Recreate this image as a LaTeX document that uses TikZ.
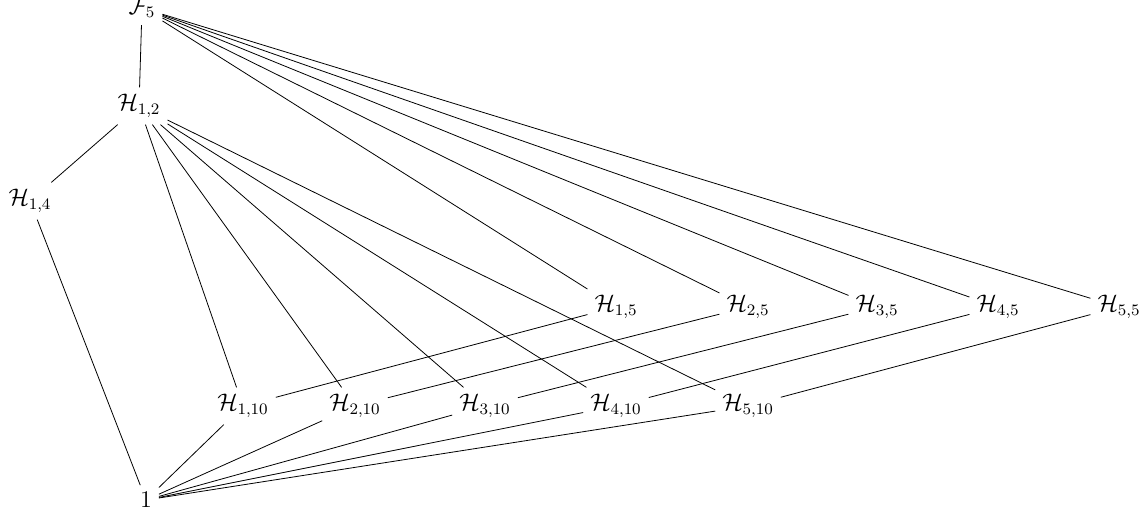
\documentclass[tikz,border=0pt]{standalone}
\usepackage{amsmath,amssymb}
\usetikzlibrary{positioning}

\begin{document}
\begin{tikzpicture}[
  x=0.5pt, y=-0.5pt,
  grp/.style={inner sep=3.33pt, font=\large},
  edge/.style={draw, thin},
]
\useasboundingbox (0,0) rectangle (1146,518);

% Top and bottom
\node[grp] (F5)  at (142,   8) {$\mathcal{F}_5$};
\node[grp] (one) at (146, 500) {$1$};

% Left chain
\node[grp] (H12) at (139, 106) {$\mathcal{H}_{1,2}$};
\node[grp] (H14) at ( 30, 201) {$\mathcal{H}_{1,4}$};

% Row of order-5 subgroups
\node[grp] (H15) at ( 616, 307) {$\mathcal{H}_{1,5}$};
\node[grp] (H25) at ( 748, 307) {$\mathcal{H}_{2,5}$};
\node[grp] (H35) at ( 877, 307) {$\mathcal{H}_{3,5}$};
\node[grp] (H45) at ( 998, 307) {$\mathcal{H}_{4,5}$};
\node[grp] (H55) at (1119, 307) {$\mathcal{H}_{5,5}$};

% Row of order-10 subgroups
\node[grp] (H110) at (243, 406) {$\mathcal{H}_{1,10}$};
\node[grp] (H210) at (355, 406) {$\mathcal{H}_{2,10}$};
\node[grp] (H310) at (485, 406) {$\mathcal{H}_{3,10}$};
\node[grp] (H410) at (616, 406) {$\mathcal{H}_{4,10}$};
\node[grp] (H510) at (748, 406) {$\mathcal{H}_{5,10}$};

% Edges of the lattice
\draw[edge] (F5) -- (H12);
\draw[edge] (H12) -- (H14);
\draw[edge] (H14) -- (one);
\foreach \i in {1,...,5} {
  \draw[edge] (F5) -- (H\i5);
  \draw[edge] (H12) -- (H\i10);
  \draw[edge] (H\i10) -- (H\i5);
  \draw[edge] (one) -- (H\i10);
}

\end{tikzpicture}
\end{document}
